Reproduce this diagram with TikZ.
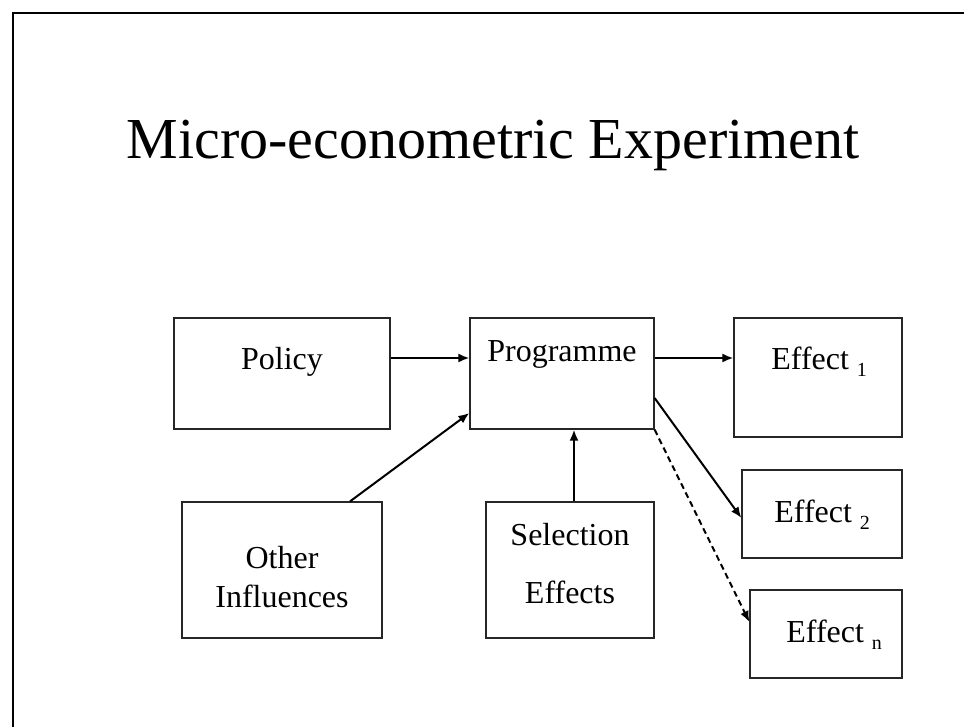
\documentclass[tikz,border=0pt]{standalone}
\usepackage{fontspec}
\setmainfont{Liberation Serif}
\usepackage{tikz}
\usetikzlibrary{arrows.meta, positioning}
\tikzset{
        x=0.5pt, y=-0.5pt, % one unit is one pixel of the slide
        >={Latex[length=5.5pt,width=4.5pt]}, % small filled arrow heads
    }
\tikzstyle{block}=[draw=black!85,line width=0.6pt,rectangle,inner sep=0pt]
\tikzstyle{blocktext}=[font=\fontsize{16}{19.5}\selectfont,anchor=base,align=center,inner sep=0pt]
\tikzstyle{link}=[->,line width=1pt]
\newcommand{\effidx}[1]{{\fontsize{10}{12}\selectfont\raisebox{-3.5pt}{#1}}}

\begin{document}
\begin{tikzpicture}
    \useasboundingbox (0,0) rectangle (964,727);
    \fill[white] (0,0) rectangle (964,727);
    \draw[line width=1pt] (13,727) -- (13,13) -- (964,13);

    \node[anchor=base,font=\fontsize{29}{34}\selectfont] (title) at (493,159)
        {Micro-econometric Experiment};

    % boxes
    \node[block,minimum width=108pt,minimum height=55.5pt] (policy) at (282,373.5) {};
    \node[block,minimum width=92pt,minimum height=55.5pt] (prog) at (562,373.5) {};
    \node[block,minimum width=100pt,minimum height=68pt] (other) at (282,570) {};
    \node[block,minimum width=84pt,minimum height=68pt] (select) at (570,570) {};
    \node[block,minimum width=84pt,minimum height=59.5pt] (eff1) at (818,377.5) {};
    \node[block,minimum width=80pt,minimum height=44pt] (eff2) at (822,514) {};
    \node[block,minimum width=76pt,minimum height=44pt] (effn) at (826,634) {};

    % texts (base of a two line text is its last line)
    \node[blocktext] (policytext) at (282,370) {Policy};
    \node[blocktext] (progtext) at (562,362) {Programme};
    \node[blocktext] (othertext) at (282,607) {Other\\Influences};
    \node[blocktext] (selecttext) at (570,603) {Selection\\[9.5pt]Effects};
    \node[blocktext,anchor=base west] (eff1text) at (771,370) {Effect \effidx{1}};
    \node[blocktext,anchor=base west] (eff2text) at (774,522) {Effect \effidx{2}};
    \node[blocktext,anchor=base west] (effntext) at (786,642) {Effect \effidx{n}};

    % arrows
    \draw[link] ([yshift=7.75pt]policy.east) -- ([yshift=7.75pt]prog.west);
    \draw[link] ([yshift=7.75pt]prog.east) -- ([yshift=9.75pt]eff1.west);
    \draw[link] ([xshift=34pt]other.north) -- ([yshift=-19.75pt]prog.west);
    \draw[link] ([xshift=2pt]select.north) -- ([xshift=6pt]prog.south);
    \draw[link] ([yshift=-12.25pt]prog.east) -- ([yshift=-2pt]eff2.west);
    \draw[link,dash pattern=on 3pt off 2pt] (prog.south east) -- ([yshift=6pt]effn.west);
\end{tikzpicture}
\end{document}
